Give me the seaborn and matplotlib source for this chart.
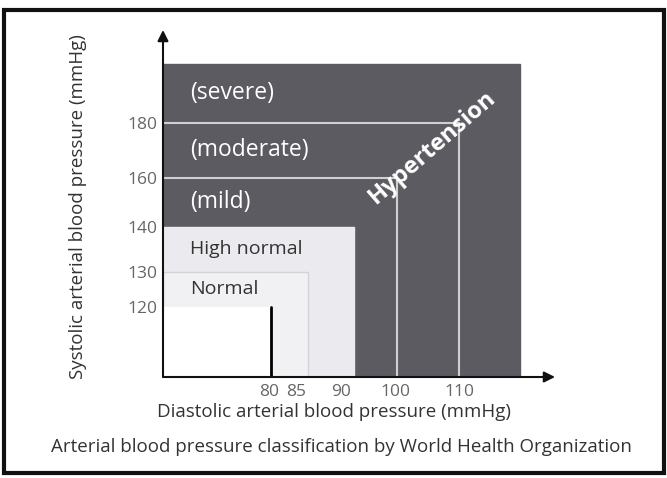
import numpy as np
import pandas as pd
import matplotlib.pyplot as plt
import matplotlib.transforms as mtransforms
import seaborn as sns

# WHO blood pressure classes (upper limits, mmHg)
region_names = ['Hypertension', 'High normal', 'Normal', 'Optimal']
region_diastolic = [120, 90, 85, 80]
region_systolic = [200, 140, 130, 120]
region_colors = ['#5c5b61', '#ebebef', '#f1f1f3', '#ffffff']

# hypertension grades
grade_names = ['(mild)', '(moderate)', '(severe)']
grade_label_y = [150, 170, 190]
grade_systolic = [160, 180]
grade_diastolic = [100, 110]

x_ticks = [80, 85, 90, 100, 110]
y_ticks = [120, 130, 140, 160, 180]
x_origin, y_origin = 70, 100

# the original axes are not linear: piecewise scale knots (value -> pixel)
x_knots = [0, 70, 80, 85, 90, 100, 110, 120, 200]
x_px = [-593, 163, 271, 308, 354, 397, 459, 520, 1008]
y_knots = [0, 100, 120, 130, 140, 160, 180, 200, 300]
y_px = [-249, 101, 171, 206, 251, 300, 355, 414, 709]


def fwd_x(v):
    return np.interp(v, x_knots, x_px)


def inv_x(p):
    return np.interp(p, x_px, x_knots)


def fwd_y(v):
    return np.interp(v, y_knots, y_px)


def inv_y(p):
    return np.interp(p, y_px, y_knots)


sns.set_theme(style='white')
plt.rcParams['font.family'] = ['Open Sans', 'DejaVu Sans']

fig = plt.figure(figsize=(6.67, 4.78), dpi=100)
ax = fig.add_axes([163 / 667, 101 / 478, 392 / 667, 347 / 478])
ax.set_xscale('function', functions=(fwd_x, inv_x))
ax.set_yscale('function', functions=(fwd_y, inv_y))
ax.set_xlim(x_origin, 125.74)
ax.set_ylim(y_origin, 211.5)

# nested class regions
for name, d, s, c in zip(region_names, region_diastolic, region_systolic, region_colors):
    ec = '#d4d4d8' if name == 'Normal' else c
    ax.bar(x_origin, s - y_origin, width=d - x_origin, bottom=y_origin,
           align='edge', color=c, edgecolor=ec, linewidth=1, zorder=1)

# black edge of the optimal box
ax.plot([region_diastolic[3], region_diastolic[3]], [y_origin, region_systolic[3]],
        color='black', lw=2, zorder=3)

# grade boundaries
rows = []
for g, (s, d) in enumerate(zip(grade_systolic, grade_diastolic)):
    rows += [(g, x_origin, s), (g, d, s), (g, d, y_origin)]
lines = pd.DataFrame(rows, columns=['grade', 'dia', 'sys'])
sns.lineplot(data=lines, x='dia', y='sys', units='grade', estimator=None, sort=False,
             color='#cfcfd4', lw=1.5, ax=ax, zorder=2)
ax.set_xlabel('')
ax.set_ylabel('')

for name, y in zip(grade_names, grade_label_y):
    ax.text(72.5, y, name, color='white', fontsize=16.5, va='center', ha='left', zorder=4)
ax.text(72.5, 135, 'High normal', color='#333333', fontsize=14, va='center', zorder=4)
ax.text(72.5, 125, 'Normal', color='#333333', fontsize=14, va='center', zorder=4)
ax.text(105.8, 171, 'Hypertension', color='white', fontsize=17, fontweight='bold',
        rotation=41, ha='center', va='center', rotation_mode='anchor', zorder=4)

# axes with arrows
for sp in ax.spines.values():
    sp.set_visible(False)
arrow = dict(arrowstyle='-|>', color='#111111', lw=1.5, mutation_scale=16,
             shrinkA=0, shrinkB=0)
ax.annotate('', xy=(1, 0), xytext=(0, 0), xycoords='axes fraction', arrowprops=arrow, zorder=5)
ax.annotate('', xy=(0, 1), xytext=(0, 0), xycoords='axes fraction', arrowprops=arrow, zorder=5)

ax.set_xticks(x_ticks)
ax.set_xticklabels([str(t) for t in x_ticks])
ax.set_yticks(y_ticks)
ax.set_yticklabels([str(t) for t in y_ticks])
ax.minorticks_off()
ax.tick_params(length=0, labelsize=12.5, labelcolor='#666666')
ax.tick_params(axis='x', pad=5)
ax.tick_params(axis='y', pad=4)
ax.grid(False)
shifts = {80: -2, 85: -12, 90: -13, 100: -2}
for t, lab in zip(x_ticks, ax.get_xticklabels()):
    if t in shifts:
        off = mtransforms.ScaledTranslation(shifts[t] / 100, 0, fig.dpi_scale_trans)
        lab.set_transform(lab.get_transform() + off)

fig.text(78 / 667, 1 - 207 / 478, 'Systolic arterial blood pressure (mmHg)', rotation=90,
         ha='center', va='center', fontsize=13.5, color='#333333')
fig.text(334 / 667, 1 - 412 / 478, 'Diastolic arterial blood pressure (mmHg)',
         ha='center', va='center', fontsize=13.5, color='#333333')
fig.text(341 / 667, 1 - 447 / 478,
         'Arterial blood pressure classification by World Health Organization',
         ha='center', va='center', fontsize=13.5, color='#333333')

# outer frame
fig.patches.append(plt.Rectangle((4 / 667, 5 / 478), 660 / 667, 463 / 478,
                                 transform=fig.transFigure, fill=False,
                                 edgecolor='#111111', linewidth=3))

fig.savefig('out.png', dpi=100)
